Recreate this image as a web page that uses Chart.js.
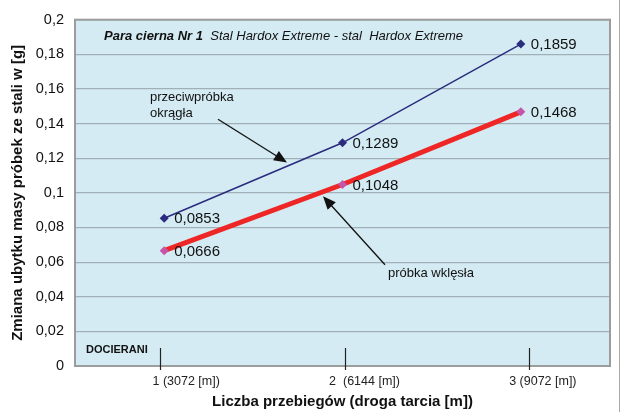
<!DOCTYPE html>
<html>
<head>
<meta charset="utf-8">
<script src="https://cdn.jsdelivr.net/npm/chart.js@4.4.1/dist/chart.umd.min.js"></script>
<style>
  html, body { margin: 0; padding: 0; background: #ffffff; }
  #wrap { width: 620px; height: 412px; position: relative; }
</style>
</head>
<body>
<div id="wrap"><canvas id="chart" width="620" height="412"></canvas></div>
<script>
// data
const categories = ['1 (3072 [m])', '2  (6144 [m])', '3 (9072 [m])'];
const counterSample = [0.0853, 0.1289, 0.1859];   // przeciwpróbka okrągła
const concaveSample = [0.0666, 0.1048, 0.1468];   // próbka wklęsła
const yTicks = [0, 0.02, 0.04, 0.06, 0.08, 0.1, 0.12, 0.14, 0.16, 0.18, 0.2];

const FONT = '"Liberation Sans", Arial, sans-serif';

function fmt(v) {
    return String(v).replace('.', ',');
}

// plot background + frame + right page edge
const plotFrame = {
    id: 'plotFrame',
    beforeDraw(chart) {
        const { ctx, chartArea: { left, top, width, height } } = chart;
        ctx.save();
        ctx.fillStyle = '#d4ebf3';
        ctx.fillRect(left, top, width, height);
        ctx.restore();
    },
    afterDraw(chart) {
        const { ctx, chartArea: { left, top, width, height } } = chart;
        ctx.save();
        ctx.strokeStyle = '#9c9c9c';
        ctx.lineWidth = 2;
        ctx.strokeRect(left, top, width, height);
        ctx.strokeStyle = '#a8a8a8';
        ctx.lineWidth = 1;
        ctx.beginPath();
        ctx.moveTo(619.5, 0);
        ctx.lineTo(619.5, 412);
        ctx.stroke();
        ctx.restore();
    }
};

// value labels right of each point
const valueLabels = {
    id: 'valueLabels',
    afterDatasetsDraw(chart) {
        const { ctx } = chart;
        ctx.save();
        ctx.font = '15px ' + FONT;
        ctx.fillStyle = '#111';
        ctx.textBaseline = 'middle';
        ctx.textAlign = 'left';
        chart.data.datasets.forEach((ds, i) => {
            chart.getDatasetMeta(i).data.forEach((pt, j) => {
                ctx.fillText(ds.data[j].toFixed(4).replace('.', ','), pt.x + 10, pt.y + 1);
            });
        });
        ctx.restore();
    }
};

function arrow(ctx, x1, y1, x2, y2) {
    const ang = Math.atan2(y2 - y1, x2 - x1);
    const len = 13, w = 5.5;
    ctx.beginPath();
    ctx.moveTo(x1, y1);
    ctx.lineTo(x2 - Math.cos(ang) * len * 0.8, y2 - Math.sin(ang) * len * 0.8);
    ctx.stroke();
    ctx.beginPath();
    ctx.moveTo(x2, y2);
    ctx.lineTo(x2 - Math.cos(ang) * len - Math.sin(ang) * w, y2 - Math.sin(ang) * len + Math.cos(ang) * w);
    ctx.lineTo(x2 - Math.cos(ang) * len + Math.sin(ang) * w, y2 - Math.sin(ang) * len - Math.cos(ang) * w);
    ctx.closePath();
    ctx.fill();
}

// title, annotations, inner tick marks
const extras = {
    id: 'extras',
    afterDraw(chart) {
        const { ctx, chartArea: { left, top, bottom } } = chart;
        const xs = chart.scales.x;
        const ys = chart.scales.y;
        ctx.save();

        // title inside the plot
        ctx.fillStyle = '#111';
        ctx.textBaseline = 'middle';
        ctx.textAlign = 'left';
        let tx = left + 29;
        const ty = top + 17;
        ctx.font = 'italic bold 13px ' + FONT;
        const t1 = 'Para cierna Nr 1';
        ctx.fillText(t1, tx, ty);
        tx += ctx.measureText(t1).width;
        ctx.font = 'italic 13px ' + FONT;
        ctx.fillText('  Stal Hardox Extreme - stal  Hardox Extreme', tx, ty);

        // DOCIERANI
        ctx.font = 'bold 11px ' + FONT;
        ctx.fillText('DOCIERANI', left + 11, bottom - 16);

        // inner tick marks at the categories
        ctx.strokeStyle = '#222';
        ctx.lineWidth = 1.2;
        categories.forEach((c, i) => {
            const px = Math.round(xs.getPixelForValue(i)) - 3.5 + i * 6;
            ctx.beginPath();
            ctx.moveTo(px, bottom - 18);
            ctx.lineTo(px, bottom + 4);
            ctx.stroke();
        });

        // annotation: przeciwpróbka okrągła
        ctx.font = '13px ' + FONT;
        ctx.fillStyle = '#111';
        ctx.fillText('przeciwpróbka', left + 75, ys.getPixelForValue(0.155));
        ctx.fillText('okrągła', left + 75, ys.getPixelForValue(0.146));
        ctx.strokeStyle = '#111';
        ctx.fillStyle = '#111';
        ctx.lineWidth = 1.3;
        arrow(ctx, left + 143, ys.getPixelForValue(0.1425), left + 212, ys.getPixelForValue(0.1175));

        // annotation: próbka wklęsła
        ctx.fillText('próbka wklęsła', left + 313, ys.getPixelForValue(0.0535));
        arrow(ctx, left + 310, ys.getPixelForValue(0.0585), left + 248, ys.getPixelForValue(0.098));

        ctx.restore();
    }
};

const ctx = document.getElementById('chart').getContext('2d');
const chart = new Chart(ctx, {
    type: 'line',
    data: {
        labels: categories,
        datasets: [
            {
                label: 'przeciwpróbka okrągła',
                data: counterSample,
                borderColor: '#2b2c7f',
                backgroundColor: '#2b2c7f',
                borderWidth: 1.5,
                pointStyle: 'rectRot',
                pointRadius: 4.5,
                pointBorderWidth: 0,
                tension: 0,
            },
            {
                label: 'próbka wklęsła',
                data: concaveSample,
                borderColor: '#ef2626',
                backgroundColor: '#c654aa',
                pointBackgroundColor: '#c654aa',
                borderWidth: 5,
                pointStyle: 'rectRot',
                pointRadius: 4.5,
                pointBorderWidth: 0,
                tension: 0,
            },
        ],
    },
    options: {
        responsive: false,
        animation: false,
        devicePixelRatio: 1,
        layout: { padding: { top: 16, right: 10, left: 0, bottom: 0 } },
        plugins: {
            legend: { display: false },
            tooltip: { enabled: false },
            title: { display: false },
        },
        scales: {
            x: {
                type: 'category',
                offset: true,
                grid: { display: false, drawTicks: false },
                border: { display: false },
                ticks: {
                    color: '#222',
                    font: { family: FONT, size: 12.5 },
                    padding: 8,
                    labelOffset: 22,
                    maxRotation: 0,
                    autoSkip: false,
                },
                title: {
                    display: true,
                    text: 'Liczba przebiegów (droga tarcia [m])',
                    color: '#111',
                    font: { family: FONT, size: 15, weight: 'bold' },
                    padding: { top: 0, bottom: 1 },
                },
                afterFit(scale) { scale.height = 46; },
            },
            y: {
                min: 0,
                max: 0.2,
                afterBuildTicks(scale) {
                    scale.ticks = yTicks.map(v => ({ value: v }));
                },
                grid: { color: '#9fb0b6', lineWidth: 1.2, drawTicks: false },
                border: { display: false },
                ticks: {
                    color: '#111',
                    font: { family: FONT, size: 14.5 },
                    padding: 11,
                    callback: v => fmt(Math.round(v * 100) / 100),
                },
                title: {
                    display: true,
                    text: 'Zmiana ubytku masy próbek ze stali w [g]',
                    color: '#111',
                    font: { family: FONT, size: 15, weight: 'bold' },
                    padding: { top: 9, bottom: 0 },
                },
                afterFit(scale) { scale.width = 75; },
            },
        },
    },
    plugins: [plotFrame, valueLabels, extras],
});
</script>
</body>
</html>
